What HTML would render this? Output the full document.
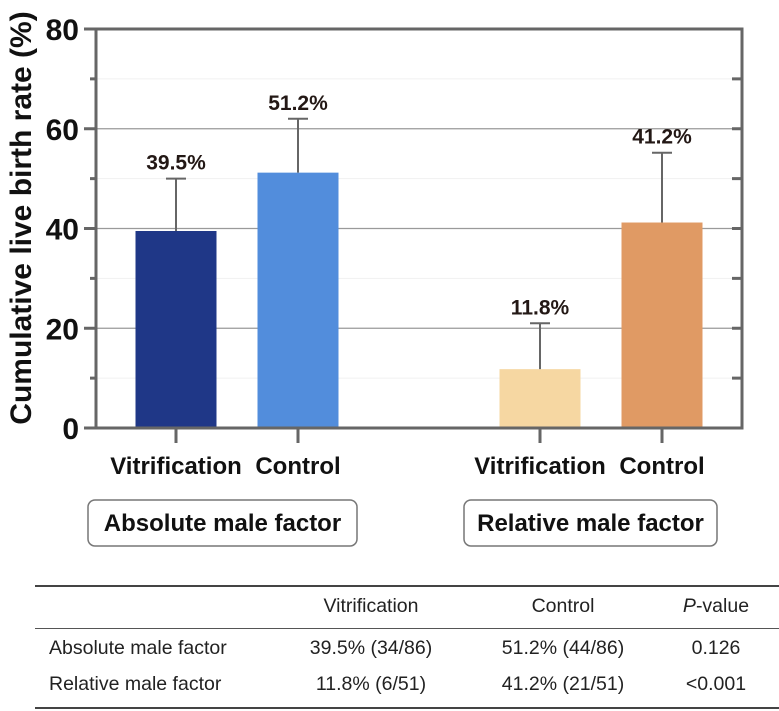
<!DOCTYPE html>
<html><head><meta charset="utf-8"><style>
body{margin:0;background:#fff;width:779px;height:711px;overflow:hidden}
svg{display:block;font-family:"Liberation Sans",Arial,sans-serif}
</style></head><body>
<svg id="c" width="779" height="711" viewBox="0 0 779 711"></svg>
<script>
const categories=["Vitrification","Control","Vitrification","Control"];
const values=[39.5,51.2,11.8,41.2];
const errUpper=[50,62,21,55.2];
const valueLabels=["39.5%","51.2%","11.8%","41.2%"];
const yTicks=[0,20,40,60,80];
const yMinor=[10,30,50,70];
const groupNames=["Absolute male factor","Relative male factor"];
const barColors=["#1f3787","#528ddc","#f6d7a2","#e09a64"];
const NS="http://www.w3.org/2000/svg";
const svg=document.getElementById("c");
function el(t,a,txt){const e=document.createElementNS(NS,t);for(const k in a)e.setAttribute(k,a[k]);if(txt!=null)e.textContent=txt;svg.appendChild(e);return e;}
const X0=96,X1=742,Y0=428,Y1=29;
function y(v){return Y0-(v/80)*(Y0-Y1);}
const centers=[176,298,540,662];
function xc(i){return centers[i];}
const bw=81;
yMinor.forEach(v=>{const g=el("line",{x1:X0,x2:X1,y1:y(v),y2:y(v),stroke:"#f1f1f1","stroke-width":1});});
yTicks.forEach(v=>{if(v===0||v===80)return;const g=el("line",{x1:X0,x2:X1,y1:y(v),y2:y(v),stroke:"#9a9a9a","stroke-width":1.3});});
values.forEach((v,i)=>{
 const b=el("rect",{x:xc(i)-bw/2,y:y(v),width:bw,height:Y0-y(v),fill:barColors[i]});
 
 
 const e=el("path",{d:`M${xc(i)} ${y(v)}V${y(errUpper[i])}M${xc(i)-10} ${y(errUpper[i])}H${xc(i)+10}`,stroke:"#666","stroke-width":2,fill:"none"});
 
 
 const t=el("text",{x:xc(i),y:y(errUpper[i])-9,"text-anchor":"middle","font-size":21,"font-weight":"bold",fill:"#231815"},valueLabels[i]);
 
 
 const tk=el("line",{x1:xc(i),x2:xc(i),y1:Y0,y2:Y0+15,stroke:"#666","stroke-width":3});
 
 
 const lb=el("text",{x:xc(i),y:474,"text-anchor":"middle","font-size":24,"font-weight":"bold",fill:"#111"},categories[i]);
 
 
});
const fr=el("rect",{x:X0,y:Y1,width:X1-X0,height:Y0-Y1,fill:"none",stroke:"#666","stroke-width":3});


yTicks.forEach(v=>{
 const t=el("line",{x1:84,x2:X0,y1:y(v),y2:y(v),stroke:"#666","stroke-width":3});
 
 
 const r=el("line",{x1:X1-10,x2:X1,y1:y(v),y2:y(v),stroke:"#666","stroke-width":3});
 
 
 const l=el("text",{x:79,y:y(v)+11,"text-anchor":"end","font-size":30,"font-weight":"bold",fill:"#111"},String(v));
 
 
});
yMinor.forEach(v=>{
 const t=el("line",{x1:90,x2:X0,y1:y(v),y2:y(v),stroke:"#666","stroke-width":3});
 
 
 const r=el("line",{x1:X1-10,x2:X1,y1:y(v),y2:y(v),stroke:"#666","stroke-width":3});
 
 
});
const yt=el("text",{transform:"translate(31,218) rotate(-90)","text-anchor":"middle","font-size":30,"font-weight":"bold",fill:"#111"},"Cumulative live birth rate (%)");


const boxes=[[88,269],[464,253]];
groupNames.forEach((g,i)=>{
 const r=el("rect",{x:boxes[i][0],y:500,width:boxes[i][1],height:46,rx:7,fill:"#fff",stroke:"#777","stroke-width":1.5});
 
 
 const t=el("text",{x:boxes[i][0]+boxes[i][1]/2,y:531,"text-anchor":"middle","font-size":24,"font-weight":"bold",fill:"#111"},g);
 
 
});
</script>
<div style="position:absolute;left:0;top:0;width:779px;height:711px;pointer-events:none;font-family:'Liberation Sans',Arial,sans-serif;font-size:19.5px;color:#222;line-height:22px">
 <div style="position:absolute;left:35px;top:585px;width:744px;height:2px;background:#444"></div>
 <div style="position:absolute;left:35px;top:628px;width:744px;height:1px;background:#555"></div>
 <div style="position:absolute;left:35px;top:707px;width:744px;height:2px;background:#444"></div>
 <div style="position:absolute;left:281px;width:180px;top:595px;text-align:center">Vitrification</div>
 <div style="position:absolute;left:473px;width:180px;top:595px;text-align:center">Control</div>
 <div style="position:absolute;left:656px;width:120px;top:595px;text-align:center"><i>P</i>-value</div>
 <div style="position:absolute;left:49px;top:637px">Absolute male factor</div>
 <div style="position:absolute;left:281px;width:180px;top:637px;text-align:center">39.5% (34/86)</div>
 <div style="position:absolute;left:473px;width:180px;top:637px;text-align:center">51.2% (44/86)</div>
 <div style="position:absolute;left:656px;width:120px;top:637px;text-align:center">0.126</div>
 <div style="position:absolute;left:49px;top:673px">Relative male factor</div>
 <div style="position:absolute;left:281px;width:180px;top:673px;text-align:center">11.8% (6/51)</div>
 <div style="position:absolute;left:473px;width:180px;top:673px;text-align:center">41.2% (21/51)</div>
 <div style="position:absolute;left:656px;width:120px;top:673px;text-align:center">&lt;0.001</div>
</div>
</body></html>
